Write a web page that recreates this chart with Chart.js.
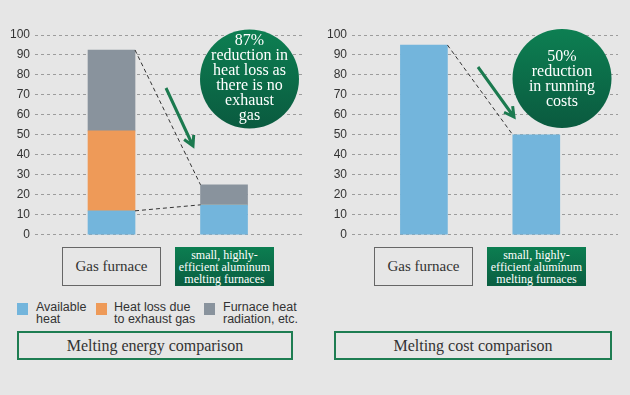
<!DOCTYPE html>
<html>
<head>
<meta charset="utf-8">
<script src="https://cdn.jsdelivr.net/npm/chart.js@4.4.0/dist/chart.umd.min.js"></script>
<style>
    body { margin: 0; background: #e6e6e6; }
    #wrap { position: relative; width: 630px; height: 395px; background: #e6e6e6; font-family: "Liberation Serif", serif; overflow: hidden; }
    canvas { position: absolute; top: 0; }
    .cat { position: absolute; top: 247px; height: 39px; width: 99px; box-sizing: border-box; display: flex; align-items: center; justify-content: center; text-align: center; }
    .plain { border: 1.5px solid #666; color: #333; font-size: 15px; }
    .green { background: linear-gradient(#0c7e51, #0a5e41); color: #fff; font-size: 12px; line-height: 12px; }
    .title { position: absolute; top: 331px; height: 29px; box-sizing: border-box; border: 2px solid #1e7d52; color: #333; font-size: 16px; display: flex; align-items: center; justify-content: center; }
    .sw { position: absolute; top: 303px; width: 11px; height: 12px; }
    .lt { position: absolute; top: 301px; font-family: "Liberation Sans", Arial, sans-serif; font-size: 12.5px; line-height: 12px; color: #333; }
</style>
</head>
<body>
<div id="wrap">
    <canvas id="energy" width="315" height="247" style="left:0"></canvas>
    <canvas id="cost" width="315" height="247" style="left:315px"></canvas>

    <div class="cat plain" style="left:62px">Gas furnace</div>
    <div class="cat green" style="left:175px">small, highly-<br>efficient aluminum<br>melting furnaces</div>
    <div class="cat plain" style="left:374px">Gas furnace</div>
    <div class="cat green" style="left:487px">small, highly-<br>efficient aluminum<br>melting furnaces</div>

    <div id="legend"></div>

    <div class="title" style="left:17px;width:276px">Melting energy comparison</div>
    <div class="title" style="left:334px;width:278px">Melting cost comparison</div>
</div>
<script>
// data
const categories = ['Gas furnace', 'small, highly-efficient aluminum melting furnaces'];
const seriesNames = ['Available\nheat', 'Heat loss due\nto exhaust gas', 'Furnace heat\nradiation, etc.'];
const availableHeat = [12, 15];
const exhaustLoss = [40, 0];
const radiationLoss = [40.5, 10];
const runningCost = [95, 50];
const yTicks = [0, 10, 20, 30, 40, 50, 60, 70, 80, 90, 100];

const BLUE = '#73b5dc';
const ORANGE = '#ee9a58';
const GREY = '#89939d';
const GREEN = '#1b7a4f';

// legend
const legend = document.getElementById('legend');
const swatchX = [17, 96, 204];
const textX = [36, 114, 223];
[BLUE, ORANGE, GREY].forEach((c, i) => {
    legend.insertAdjacentHTML('beforeend',
        `<div class="sw" style="left:${swatchX[i]}px;background:${c}"></div>` +
        `<div class="lt" style="left:${textX[i]}px">${seriesNames[i].replace('\n', '<br>')}</div>`);
});

const toPoints = arr => arr.map((v, i) => ({ x: i, y: v }));

// dashed lines joining bar tops
const connectors = {
    id: 'connectors',
    afterDatasetsDraw(chart, args, opts) {
        const ctx = chart.ctx;
        ctx.save();
        ctx.strokeStyle = '#333';
        ctx.lineWidth = 1;
        ctx.setLineDash([4, 3]);
        (opts.links || []).forEach(([dsA, iA, dsB, iB]) => {
            const a = chart.getDatasetMeta(dsA).data[iA];
            const b = chart.getDatasetMeta(dsB).data[iB];
            ctx.beginPath();
            ctx.moveTo(a.x + a.width / 2, a.y);
            ctx.lineTo(b.x - b.width / 2, b.y);
            ctx.stroke();
        });
        ctx.restore();
    }
};

// green circle note and arrow
const callout = {
    id: 'callout',
    afterDraw(chart, args, opts) {
        if (!opts.lines) return;
        const ctx = chart.ctx;
        const { cx, cy, r, lines, arrow } = opts;
        ctx.save();
        const g = ctx.createLinearGradient(0, cy - r, 0, cy + r);
        g.addColorStop(0, '#0d7f52');
        g.addColorStop(1, '#0a5a3f');
        ctx.fillStyle = g;
        ctx.beginPath();
        ctx.arc(cx, cy, r, 0, Math.PI * 2);
        ctx.fill();

        ctx.fillStyle = '#fff';
        ctx.font = '16px "Liberation Serif", serif';
        ctx.textAlign = 'center';
        ctx.textBaseline = 'middle';
        const lh = 15;
        const top = opts.textY - (lines.length - 1) * lh / 2;
        lines.forEach((t, i) => ctx.fillText(t, cx, top + i * lh));

        const [x1, y1, x2, y2] = arrow;
        ctx.strokeStyle = GREEN;
        ctx.lineWidth = 3;
        ctx.beginPath();
        ctx.moveTo(x1, y1);
        ctx.lineTo(x2, y2);
        const ang = Math.atan2(y2 - y1, x2 - x1);
        const hl = 11;
        ctx.moveTo(x2 - hl * Math.cos(ang - 0.5), y2 - hl * Math.sin(ang - 0.5));
        ctx.lineTo(x2, y2);
        ctx.lineTo(x2 - hl * Math.cos(ang + 0.5), y2 - hl * Math.sin(ang + 0.5));
        ctx.stroke();
        ctx.restore();
    }
};

function makeChart(id, datasets, xMin, xMax, axisWidth, padRight, pluginOpts) {
    return new Chart(document.getElementById(id), {
        type: 'bar',
        data: { datasets },
        options: {
            responsive: false,
            animation: false,
            devicePixelRatio: 1,
            layout: { padding: { top: 35, right: padRight, bottom: 0, left: 0 } },
            plugins: {
                legend: { display: false },
                tooltip: { enabled: false },
                connectors: pluginOpts.connectors,
                callout: pluginOpts.callout
            },
            datasets: { bar: { barThickness: 47 } },
            scales: {
                x: { type: 'linear', display: false, stacked: true, offset: false, min: xMin, max: xMax },
                y: {
                    stacked: true,
                    min: 0,
                    max: 100,
                    afterBuildTicks: scale => { scale.ticks = yTicks.map(v => ({ value: v })); },
                    afterFit: scale => { scale.width = axisWidth; },
                    ticks: {
                        color: '#333',
                        padding: 5,
                        font: { family: '"Liberation Sans", Arial, sans-serif', size: 12 }
                    },
                    grid: { color: '#9c9c9c', drawTicks: false, lineWidth: 1 },
                    border: { display: false, dash: [3, 3] }
                }
            }
        },
        plugins: [connectors, callout]
    });
}

makeChart('energy', [
    { label: seriesNames[0], data: toPoints(availableHeat), backgroundColor: BLUE },
    { label: seriesNames[1], data: toPoints(exhaustLoss), backgroundColor: ORANGE },
    { label: seriesNames[2], data: toPoints(radiationLoss), backgroundColor: GREY }
], -0.68, 1.693, 35, 13, {
    connectors: { links: [[2, 0, 2, 1], [0, 0, 0, 1]] },
    callout: {
        cx: 249.5, cy: 79, r: 49.5, textY: 78,
        lines: ['87%', 'reduction in', 'heat loss as', 'there is no', 'exhaust', 'gas'],
        arrow: [166, 88, 193, 146]
    }
});

makeChart('cost', [
    { label: 'Running cost', data: toPoints(runningCost), backgroundColor: BLUE }
], -0.64, 1.727, 37, 12, {
    connectors: { links: [[0, 0, 0, 1]] },
    callout: {
        cx: 247, cy: 78.5, r: 49.5, textY: 79,
        lines: ['50%', 'reduction', 'in running', 'costs'],
        arrow: [163, 67, 199, 117]
    }
});
</script>
</body>
</html>
